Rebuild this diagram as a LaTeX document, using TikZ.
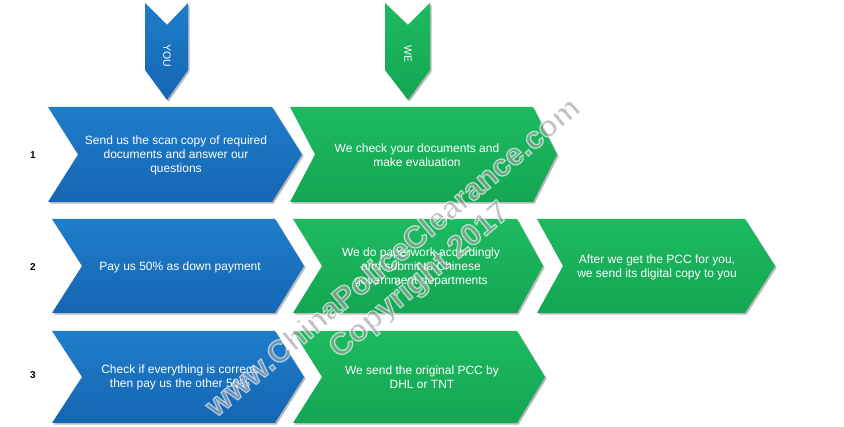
\documentclass[tikz,border=0pt]{standalone}
\usepackage{fontspec}
\setmainfont{Liberation Sans}
\usetikzlibrary{shadows}
\definecolor{bluetop}{HTML}{1F7DCA}
\definecolor{bluebot}{HTML}{1566B3}
\definecolor{greentop}{HTML}{1DBA60}
\definecolor{greenbot}{HTML}{14A653}
\definecolor{wmgray}{HTML}{A0A0A0}
% #1 style, #2 left x, #3 notch depth, #4 right x, #5 tip depth, #6 top y, #7 bottom y
\newcommand\mychev[7]{%
  \path[#1] (#2,#6) -- (#4,#6) -- (#4+#5,{(#6+#7)/2}) -- (#4,#7) -- (#2,#7)
    -- (#2+#3,{(#6+#7)/2}) -- cycle;}
\newcommand\wmfx[1]{{\color{wmgray}\special{pdf:code 2 Tr 1.2 w 1 1 1 RG}#1\special{pdf:code 0 Tr}}}
\begin{document}
\begin{tikzpicture}[x=1pt,y=-1pt,
  shad/.style={drop shadow={shadow xshift=1.6pt,shadow yshift=-1.6pt,opacity=0.28,fill=black}},
  bluechev/.style={shad,top color=bluetop,bottom color=bluebot},
  greenchev/.style={shad,top color=greentop,bottom color=greenbot},
  lbl/.style={text=white,font=\fontsize{12}{14}\selectfont,align=center,inner sep=0pt},
  vlbl/.style={text=white,font=\fontsize{10.5}{12}\selectfont,rotate=-90,inner sep=0pt},
  num/.style={font=\bfseries\fontsize{10}{10}\selectfont,inner sep=0pt},
  wm/.style={font=\bfseries\fontsize{31}{35}\selectfont,rotate=40,inner sep=0pt}]
\useasboundingbox (0,0) rectangle (844,427);

% top markers
\path[bluechev] (145,3) -- (167,25) -- (188,3) -- (188,70) -- (167,100) -- (145,70) -- cycle;
\path[greenchev] (385,3) -- (408,25) -- (430,3) -- (430,70) -- (408,100) -- (385,70) -- cycle;
\node[vlbl] (you) at (167,56) {YOU};
\node[vlbl] (we) at (408,54) {WE};

% row 1
\mychev{bluechev}{48}{30}{272}{30}{107}{202}
\mychev{greenchev}{290}{25}{533}{24}{107}{202}
% row 2
\mychev{bluechev}{52}{30}{275}{29}{219}{313}
\mychev{greenchev}{293}{29}{517}{26}{219}{313}
\mychev{greenchev}{537}{26}{745}{30}{219}{313}
% row 3
\mychev{bluechev}{52}{30}{275}{29}{331}{423}
\mychev{greenchev}{293}{29}{517}{28}{331}{423}

% numbers
\node[num] (n1) at (33,155) {1};
\node[num] (n2) at (33,267) {2};
\node[num] (n3) at (33,375) {3};

% texts
\node[lbl] (b1) at (176,155) {Send us the scan copy of required\\documents and answer our\\questions};
\node[lbl] (g1) at (417,155) {We check your documents and\\make evaluation};
\node[lbl] (b2) at (180,267) {Pay us 50\% as down payment};
\node[lbl] (g2) at (421,267) {We do paperwork accordingly\\and submit to Chinese\\government departments};
\node[lbl] (g3) at (657,267) {After we get the PCC for you,\\we send its digital copy to you};
\node[lbl] (b3) at (180,377) {Check if everything is correct,\\then pay us the other 50\%};
\node[lbl] (g4) at (422,377) {We send the original PCC by\\DHL or TNT};

% watermark
\begin{scope}[transparency group,opacity=0.65]
\node[wm] (wm1) at (392,256) {\wmfx{www.ChinaPoliceClearance.com}};
\node[wm] (wm2) at (420,281) {\wmfx{Copyright 2017}};
\end{scope}
\end{tikzpicture}
\end{document}
